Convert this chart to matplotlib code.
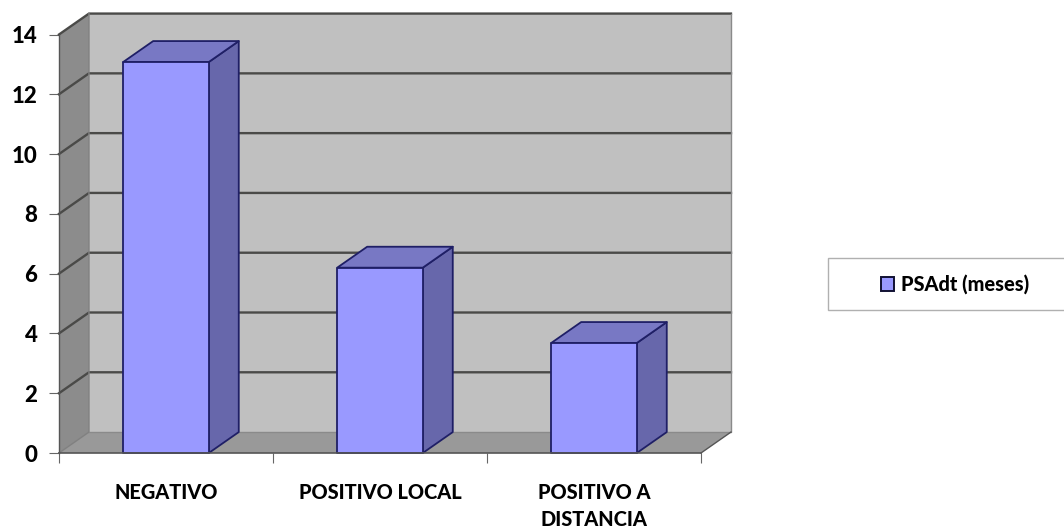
import matplotlib
matplotlib.use("Agg")
import matplotlib.pyplot as plt
from matplotlib.patches import Polygon, Rectangle

plt.rcParams['font.family'] = ['Lato', 'DejaVu Sans']

categories = ["NEGATIVO", "POSITIVO LOCAL", "POSITIVO A\nDISTANCIA"]
psadt_meses = [13.08, 6.2, 3.68]
y_ticks = [0, 2, 4, 6, 8, 10, 12, 14]
series_name = "PSAdt (meses)"

W, H = 1064, 531
fig = plt.figure(figsize=(W / 100, H / 100), dpi=100, facecolor="white")
ax = fig.add_axes([59 / W, 1 - 453 / H, 642 / W, 418.5 / H])
ax.set_xlim(-0.5, 2.5)
ax.set_ylim(0, 14)
ax.patch.set_visible(False)
for s in ax.spines.values():
    s.set_visible(False)

# Oblique projection offset of the 3D box, in data units
DX, DY = 0.14, 0.70
BAR_W = 0.40
x0, x1 = -0.5, 2.5
y_top = y_ticks[-1]


def poly(pts, **kw):
    ax.add_patch(Polygon(pts, closed=True, clip_on=False, **kw))


# Walls and floor
poly([(x0 + DX, DY), (x1 + DX, DY), (x1 + DX, y_top + DY), (x0 + DX, y_top + DY)],
     facecolor="#c0c0c0", edgecolor="none", zorder=1)
poly([(x0, 0), (x0 + DX, DY), (x0 + DX, y_top + DY), (x0, y_top)],
     facecolor="#8c8c8c", edgecolor="none", zorder=1)
poly([(x0, 0), (x1, 0), (x1 + DX, DY), (x0 + DX, DY)],
     facecolor="#999999", edgecolor="none", zorder=1)

# Gridlines run along the side wall and across the back wall
GRID = "#4a4a48"
for t in y_ticks[1:]:
    ax.plot([x0, x0 + DX, x1 + DX], [t, t + DY, t + DY], color=GRID, lw=1.7,
            clip_on=False, zorder=2, solid_joinstyle="miter")
ax.plot([x0, x0 + DX, x0 + DX], [0, DY, y_top + DY], color="#808080", lw=1.0, clip_on=False, zorder=2)
ax.plot([x0 + DX, x1 + DX, x1 + DX], [DY, DY, y_top + DY], color="#8a8a8a", lw=1.0, clip_on=False, zorder=2)
ax.plot([x0, x0], [0, y_top], color="#555555", lw=1.0, clip_on=False, zorder=2)
ax.plot([x1, x1 + DX], [0, DY], color="#555555", lw=1.0, clip_on=False, zorder=2)

# Extruded bars: side, top, then front face
EDGE = "#1f1f66"
for i, v in enumerate(psadt_meses):
    l, r = i - BAR_W / 2, i + BAR_W / 2
    poly([(r, 0), (r + DX, DY), (r + DX, v + DY), (r, v)],
         facecolor="#6767ab", edgecolor=EDGE, lw=1.3, zorder=3, joinstyle="round")
    poly([(l, v), (r, v), (r + DX, v + DY), (l + DX, v + DY)],
         facecolor="#7878c4", edgecolor=EDGE, lw=1.3, zorder=3, joinstyle="round")
    poly([(l, 0), (r, 0), (r, v), (l, v)],
         facecolor="#9999ff", edgecolor=EDGE, lw=1.3, zorder=4, joinstyle="round")

# Baseline in front of the floor
ax.plot([x0, x1], [0, 0], color="#555555", lw=1.2, clip_on=False, zorder=5)

# Axes ticks and labels
ax.set_yticks(y_ticks)
ax.set_yticklabels([str(t) for t in y_ticks], fontsize=16, fontweight="black", color="black")
ax.tick_params(axis="y", length=7, width=0.8, color="#666666", pad=8.5)
ax.set_xticks([-0.5, 0.5, 1.5, 2.5], minor=False)
ax.set_xticklabels([])
ax.tick_params(axis="x", length=7, width=0.8, color="#666666", direction="out")
for i, c in enumerate(categories):
    ax.annotate(c, xy=(i, 0), xycoords=("data", "axes fraction"), xytext=(0, -21.5),
                textcoords="offset points", ha="center", va="top", fontsize=14.4,
                fontweight="black", color="black", linespacing=1.5)

# Legend box, running off the right edge
fig.add_artist(Rectangle((828 / W, 1 - 309.5 / H), 240 / W, 51.5 / H, transform=fig.transFigure,
                         facecolor="white", edgecolor="#b0b0b0", lw=1.0, clip_on=True))
handle = Rectangle((0, 0), 1, 1, facecolor="#9999ff", edgecolor="#111133", lw=1.4)
fig.legend([handle], [series_name], loc="center", bbox_to_anchor=(955 / W, 1 - 284 / H),
           frameon=False, handlelength=0.62, handleheight=0.7, handletextpad=0.35,
           prop={"size": 14.4, "weight": "black"})

fig.savefig("out.png", dpi=100)
